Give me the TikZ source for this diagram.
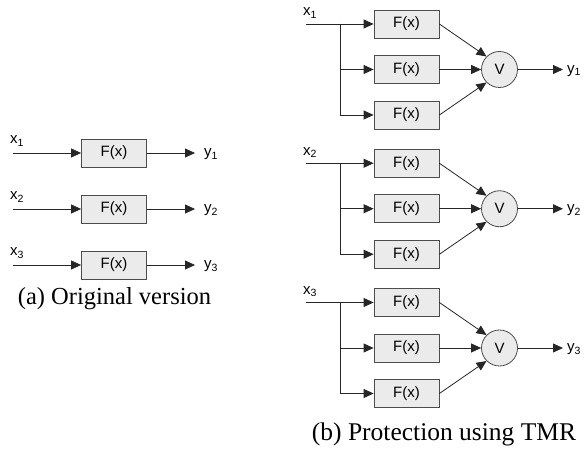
\documentclass[tikz,border=0pt]{standalone}
\usepackage{fontspec}
\setmainfont{Liberation Serif}
\newfontfamily\arialf{Liberation Sans}
\usetikzlibrary{arrows.meta}
\tikzset{
  fbox/.style={draw=black!70, fill=black!8, line width=0.8pt, minimum width=65pt, minimum height=28pt, inner sep=0pt, font=\arialf\fontsize{15}{15}\selectfont},
  voter/.style={circle, draw=black!70, fill=black!8, line width=0.8pt, minimum size=36pt, inner sep=0pt, font=\arialf\fontsize{15}{15}\selectfont},
  lbl/.style={inner sep=0pt, font=\arialf\fontsize{15}{15}\selectfont},
  wire/.style={draw=black!85, line width=0.8pt},
  arr/.style={wire, -{Triangle[length=10pt,width=9pt]}},
  captxt/.style={inner sep=0pt, anchor=base, font=\fontsize{25.5}{25.5}\selectfont}
}
\begin{document}
\begin{tikzpicture}[x=1pt,y=-1pt]
\useasboundingbox (0,0) rectangle (587,454);
% panel (a)
\foreach \i in {1,2,3}{
  \pgfmathsetmacro{\yy}{153+56*(\i-1)}
  \coordinate (ax\i) at (13,\yy);
  \node[fbox] (af\i) at (114,\yy) {F(x)};
  \coordinate (ay\i) at (195,\yy);
  \draw[arr] (ax\i) -- (af\i);
  \draw[arr] (af\i) -- (ay\i);
  \node[lbl, anchor=base west] (axl\i) at (10,\yy-9) {x\textsubscript{\i}};
  \node[lbl, anchor=base west] (ayl\i) at (204,\yy+4) {y\textsubscript{\i}};
}
\node[captxt, font=\fontsize{24.5}{24.5}\selectfont] (capa) at (114.5,305) {(a) Original version};
% panel (b)
\foreach \g in {1,2,3}{
  \pgfmathsetmacro{\ya}{24+139.25*(\g-1)}
  \pgfmathsetmacro{\yb}{\ya+45.5}
  \pgfmathsetmacro{\yc}{\ya+91}
  \coordinate (bx\g) at (306,\ya);
  \coordinate (bsa\g) at (340,\ya);
  \coordinate (bsb\g) at (340,\yb);
  \coordinate (bsc\g) at (340,\yc);
  \node[fbox] (bfa\g) at (406.5,\ya) {F(x)};
  \node[fbox] (bfb\g) at (406.5,\yb) {F(x)};
  \node[fbox] (bfc\g) at (406.5,\yc) {F(x)};
  \node[voter] (v\g) at (499.5,\yb) {V};
  \coordinate (by\g) at (563,\yb);
  \draw[arr] (bx\g) -- (bfa\g);
  \draw[wire] (bsa\g) -- (bsc\g);
  \draw[arr] (bsb\g) -- (bfb\g);
  \draw[arr] (bsc\g) -- (bfc\g);
  \draw[arr] (bfa\g.east) -- (v\g.135);
  \draw[arr] (bfb\g) -- (v\g);
  \draw[arr] (bfc\g.east) -- (v\g.225);
  \draw[arr] (v\g) -- (by\g);
  \node[lbl, anchor=base west] (bxl\g) at (303,\ya-8) {x\textsubscript{\g}};
  \node[lbl, anchor=base west] (byl\g) at (567,\yb+4) {y\textsubscript{\g}};
}
\node[captxt] (capb) at (444,441) {(b) Protection using TMR};
\end{tikzpicture}
\end{document}
